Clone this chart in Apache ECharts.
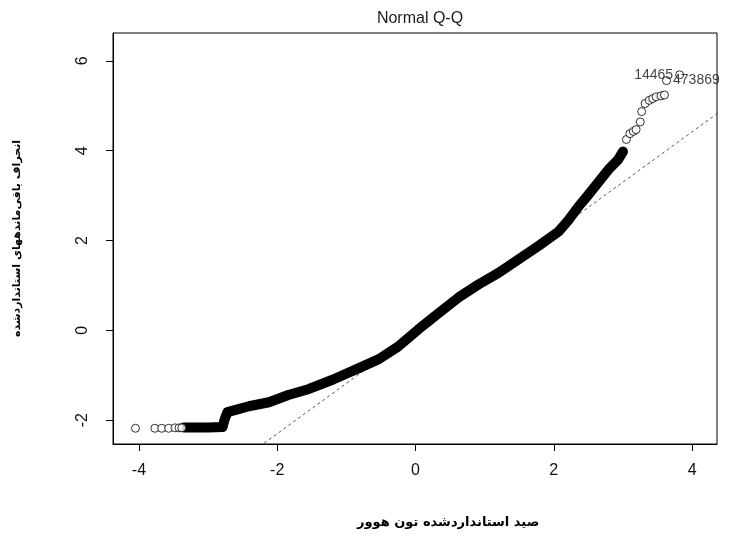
<!DOCTYPE html>
<html>
<head>
<meta charset="utf-8">
<script src="https://cdn.jsdelivr.net/npm/echarts@6/dist/echarts.min.js"></script>
<style>
  html, body { margin: 0; padding: 0; background: #fff; }
  #chart { width: 732px; height: 536px; }
</style>
</head>
<body>
<div id="chart"></div>
<script>
// dense middle of the Q-Q cloud (theoretical quantile, standardized residual)
const curveX = [-3.35, -3.0, -2.79, -2.76, -2.72, -2.6, -2.41, -2.12, -1.84, -1.55, -1.2, -0.82, -0.53, -0.25, 0.04, 0.33, 0.62, 0.91, 1.2, 1.49, 1.78, 2.07, 2.21, 2.36, 2.5, 2.64, 2.79, 2.93, 3.0];
const curveY = [-2.16, -2.16, -2.15, -1.98, -1.82, -1.77, -1.69, -1.6, -1.44, -1.31, -1.1, -0.84, -0.64, -0.36, 0.02, 0.38, 0.73, 1.02, 1.28, 1.58, 1.88, 2.2, 2.45, 2.76, 3.02, 3.29, 3.58, 3.8, 3.98];

// sparse points at both ends
const lowTailX = [-4.05, -3.77, -3.67, -3.57, -3.48, -3.42, -3.38];
const lowTailY = [-2.18, -2.18, -2.18, -2.18, -2.17, -2.17, -2.17];
const highTailX = [3.05, 3.1, 3.15, 3.19, 3.25, 3.27, 3.32, 3.38, 3.43, 3.48, 3.55, 3.6];
const highTailY = [4.25, 4.38, 4.43, 4.47, 4.64, 4.87, 5.05, 5.12, 5.16, 5.2, 5.22, 5.24];

// labelled outliers
const outlierX = [3.82, 3.63];
const outlierY = [5.69, 5.56];
const outlierIds = ['14465', '473869'];
const outlierLabelPos = ['left', 'right'];

// reference line through the quartiles
const refSlope = 1.12;
const refIntercept = -0.06;
const refX = [-2.4, 4.5];

const xTickValues = [-4, -2, 0, 2, 4];
const yTickValues = [-2, 0, 2, 4, 6];

const chart = echarts.init(document.getElementById('chart'));

const hollow = {
  color: '#fff',
  borderColor: '#000',
  borderWidth: 1
};

chart.setOption({
  animation: false,
  backgroundColor: '#fff',
  title: {
    text: 'Normal Q-Q',
    left: 415,
    top: 6,
    textAlign: 'center',
    textStyle: { fontFamily: 'Liberation Sans', fontSize: 16, fontWeight: 'normal', color: '#1a1a1a' }
  },
  grid: {
    left: 113, right: 15, top: 33, bottom: 92,
    show: true, borderColor: '#000', borderWidth: 1,
    outerBoundsMode: 'none'
  },
  xAxis: {
    type: 'value',
    min: -4.375, max: 4.36,
    splitLine: { show: false },
    axisLine: { show: true, onZero: false, lineStyle: { color: '#000' } },
    axisTick: { show: true, length: 7, customValues: xTickValues, lineStyle: { color: '#000' } },
    axisLabel: {
      customValues: xTickValues, margin: 19,
      fontFamily: 'Liberation Sans', fontSize: 16, color: '#111'
    }
  },
  yAxis: {
    type: 'value',
    min: -2.53, max: 6.62,
    splitLine: { show: false },
    axisLine: { show: true, onZero: false, lineStyle: { color: '#000' } },
    axisTick: { show: true, length: 7, customValues: yTickValues, lineStyle: { color: '#000' } },
    axisLabel: {
      customValues: yTickValues, rotate: 90, margin: 22,
      fontFamily: 'Liberation Sans', fontSize: 16, color: '#111'
    },
    name: 'انحراف باقی‌ماندههای استانداردشده',
    nameLocation: 'middle',
    nameRotate: 90,
    nameGap: 90,
    nameTextStyle: { fontFamily: 'DejaVu Sans', fontSize: 11, fontWeight: 'bold', color: '#000' }
  },
  graphic: [{
    type: 'text',
    left: 452 - 95,
    top: 516,
    style: {
      text: 'صید استانداردشده تون هوور',
      fontFamily: 'DejaVu Sans', fontSize: 13, fontWeight: 'bold', fill: '#000',
      width: 190, align: 'center'
    }
  }],
  series: [
    {
      type: 'line',
      data: refX.map(x => [x, refIntercept + refSlope * x]),
      showSymbol: false,
      clip: true,
      lineStyle: { color: '#555', width: 1, type: [3, 3] },
      z: 1
    },
    {
      type: 'line',
      data: curveX.map((x, i) => [x, curveY[i]]),
      showSymbol: false,
      lineStyle: { color: '#000', width: 10, cap: 'round', join: 'round' },
      z: 2
    },
    {
      type: 'scatter',
      data: lowTailX.map((x, i) => [x, lowTailY[i]])
        .concat(highTailX.map((x, i) => [x, highTailY[i]])),
      symbol: 'circle',
      symbolSize: 8,
      itemStyle: hollow,
      z: 3
    },
    {
      type: 'scatter',
      data: outlierX.map((x, i) => ({
        value: [x, outlierY[i]],
        name: outlierIds[i],
        label: { position: outlierLabelPos[i] }
      })),
      symbol: 'circle',
      symbolSize: 8,
      itemStyle: hollow,
      label: {
        show: true,
        formatter: p => p.name,
        distance: 2,
        fontFamily: 'Liberation Sans', fontSize: 14, color: '#111'
      },
      z: 4
    }
  ]
});
</script>
</body>
</html>
